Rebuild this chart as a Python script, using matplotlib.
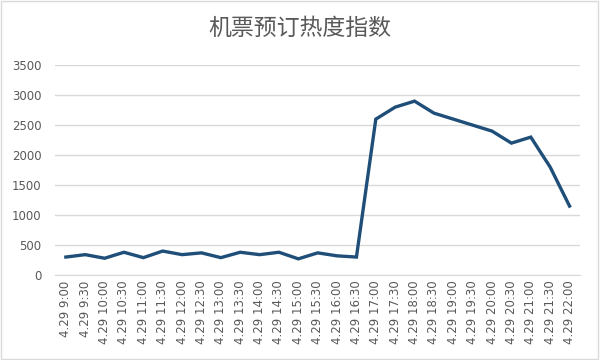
import matplotlib
matplotlib.use("Agg")
from matplotlib import pyplot as plt
from matplotlib.patches import Rectangle

plt.rcParams['font.family'] = ['Noto Sans CJK SC', 'DejaVu Sans']

times = ["9:00", "9:30", "10:00", "10:30", "11:00", "11:30", "12:00", "12:30",
         "13:00", "13:30", "14:00", "14:30", "15:00", "15:30", "16:00", "16:30",
         "17:00", "17:30", "18:00", "18:30", "19:00", "19:30", "20:00", "20:30",
         "21:00", "21:30", "22:00"]
labels = ["4.29 " + t for t in times]
heat = [300, 340, 280, 380, 290, 400, 340, 370, 290, 380, 340, 380, 270, 370,
        320, 300, 2600, 2800, 2900, 2700, 2600, 2500, 2400, 2200, 2300, 1800, 1150]

fig = plt.figure(figsize=(6, 3.6), dpi=100)
ax = fig.add_axes([0.092, 0.236, 0.875, 0.583])

x = range(len(heat))
ax.plot(x, heat, color='#1F4E79', linewidth=2.4, solid_joinstyle='miter')

ax.set_ylim(0, 3500)
ax.set_yticks(range(0, 3501, 500))
ax.set_xlim(-0.55, len(heat) - 0.45)
ax.set_xticks(list(x))
ax.set_xticklabels(labels, rotation=90, fontsize=8.5, color='#595959',
                   family=['DejaVu Sans'])
ax.tick_params(axis='y', labelsize=8.5, colors='#595959', length=0, pad=10)
ax.tick_params(axis='x', length=0, pad=4)
for lab in ax.get_yticklabels():
    lab.set_family(['DejaVu Sans'])
ax.grid(axis='y', color='#D9D9D9', linewidth=1)
ax.set_axisbelow(True)
for s in ['top', 'right', 'left']:
    ax.spines[s].set_visible(False)
ax.spines['bottom'].set_color('#D9D9D9')

fig.text(0.5, 0.922, "机票预订热度指数", ha='center', va='center',
         fontsize=16.5, color='#595959')

fig.patches.append(Rectangle((0.002, 0.003), 0.995, 0.993, transform=fig.transFigure,
                             fill=False, edgecolor='#D9D9D9', linewidth=1))

fig.savefig("out.png", dpi=100)
